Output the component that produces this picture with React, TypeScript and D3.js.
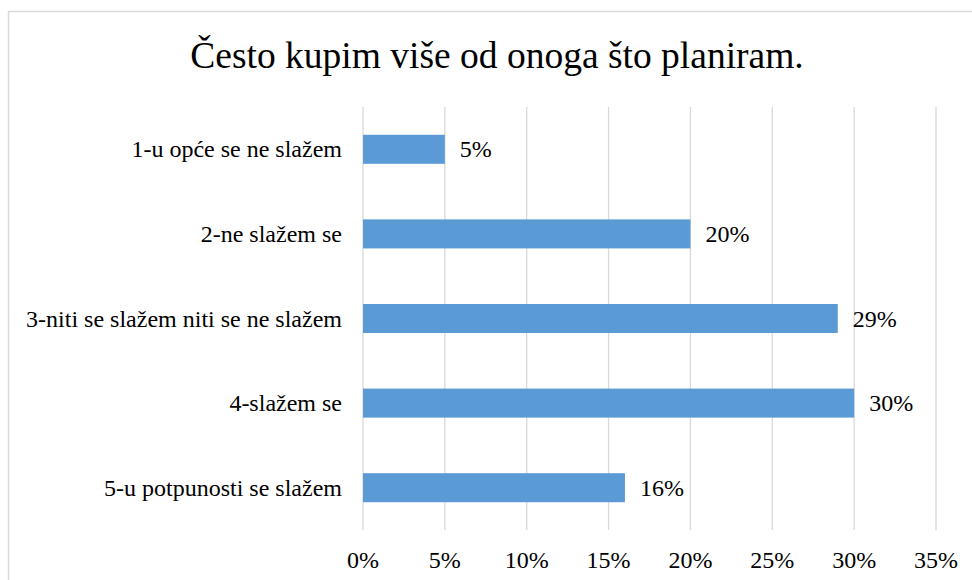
import React from "react";
import * as d3 from "d3";

const title = "Često kupim više od onoga što planiram.";
const categories = [
  "1-u opće se ne slažem",
  "2-ne slažem se",
  "3-niti se slažem niti se ne slažem",
  "4-slažem se",
  "5-u potpunosti se slažem",
];
const values = [5, 20, 29, 30, 16];
const valueLabels = ["5%", "20%", "29%", "30%", "16%"];
const ticks = [0, 5, 10, 15, 20, 25, 30, 35];

const W = 972;
const H = 580;
const fontStyle = { fontFamily: "'Liberation Serif', 'Times New Roman', serif" };

export default function App() {
  const x = d3.scaleLinear().domain([0, 35]).range([363, 936]);
  const y = d3
    .scaleBand<string>()
    .domain(categories)
    .range([107, 530])
    .paddingInner(0.657)
    .paddingOuter(0.3285);

  return (
    <div style={{ position: "absolute", left: 0, top: 0 }}>
      <svg width={W} height={H} style={{ display: "block", background: "#fff", ...fontStyle }}>
        <rect x={8.5} y={11.5} width={W + 20} height={H + 20} fill="#fff" stroke="#d9d9d9" strokeWidth={1.5} />
        <text x={497} y={68} textAnchor="middle" style={fontStyle} fontSize={37.5} fill="#000">
          {title}
        </text>
        {ticks.map((t) => (
          <line
            key={"g" + t}
            x1={x(t)}
            x2={x(t)}
            y1={107}
            y2={530}
            stroke="#d9d9d9"
            strokeWidth={1.3}
          />
        ))}
        {categories.map((c, i) => (
          <g key={c}>
            <rect
              x={x(0)}
              y={y(c)!}
              width={x(values[i]) - x(0)}
              height={y.bandwidth()}
              fill="#5B9BD5"
            />
            <text
              x={x(values[i]) + 15}
              y={y(c)! + y.bandwidth() / 2 + 8}
              style={fontStyle}
              fontSize={24}
              fill="#000"
            >
              {valueLabels[i]}
            </text>
            <text
              x={x(0) - 21}
              y={y(c)! + y.bandwidth() / 2 + 8}
              textAnchor="end"
              style={fontStyle}
              fontSize={24}
              fill="#000"
            >
              {c}
            </text>
          </g>
        ))}
        {ticks.map((t) => (
          <text
            key={"t" + t}
            x={x(t)}
            y={568}
            textAnchor="middle"
            style={fontStyle}
            fontSize={24}
            fill="#000"
          >
            {t + "%"}
          </text>
        ))}
      </svg>
    </div>
  );
}
